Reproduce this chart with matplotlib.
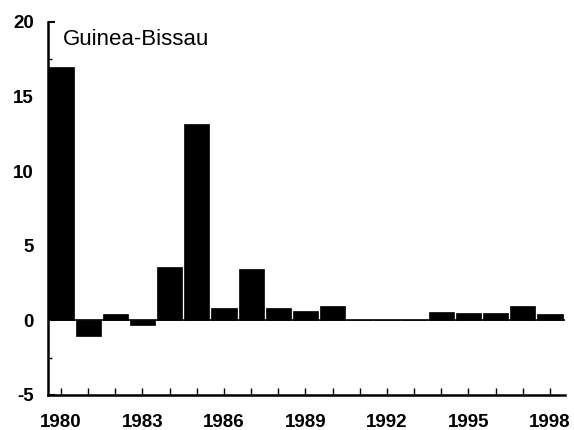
import matplotlib
matplotlib.use('Agg')
import matplotlib.pyplot as plt
import numpy as np

# Guinea-Bissau, annual values 1980-1998
YEARS = list(range(1980, 1999))
VALUES = [17.0, -1.05, 0.45, -0.3, 3.6, 13.15, 0.85, 3.45, 0.8, 0.6,
          0.95, 0.0, 0.0, 0.0, 0.55, 0.5, 0.5, 0.95, 0.4]
LABELED_YEARS = [1980, 1983, 1986, 1989, 1992, 1995, 1998]
Y_TICKS = [-5, 0, 5, 10, 15, 20]
TITLE = "Guinea-Bissau"

plt.rcParams['font.family'] = ['Liberation Sans', 'DejaVu Sans']
plt.rcParams['axes.unicode_minus'] = False

fig = plt.figure(figsize=(5.74, 4.30), dpi=100)
ax = fig.add_axes([0.0836, 0.0814, 0.9004, 0.8676])

ax.bar(YEARS, VALUES, width=0.93, color='black', edgecolor='black', linewidth=0.5)
ax.axhline(0, color='black', linewidth=1.2)

ax.set_xlim(1979.52, 1998.55)
ax.set_ylim(-5, 20)

ax.set_xticks(YEARS)
ax.set_xticklabels([str(y) if y in LABELED_YEARS else '' for y in YEARS],
                   fontweight='bold')
ax.set_yticks(Y_TICKS)
ax.set_yticklabels([str(v) for v in Y_TICKS], fontweight='bold')
ax.set_yticks(np.arange(-5, 20, 2.5), minor=True)

for s in ['top', 'right']:
    ax.spines[s].set_visible(False)
for s in ['left', 'bottom']:
    ax.spines[s].set_linewidth(1.8)

ax.tick_params(axis='x', direction='in', length=5, width=1, labelsize=13.5, pad=14)
ax.tick_params(axis='y', direction='in', length=5, width=1.5, labelsize=13.5, pad=10)
ax.tick_params(axis='y', which='minor', direction='in', length=3, width=1)

ax.text(0.029, 0.938, TITLE, transform=ax.transAxes, fontsize=16,
        ha='left', va='baseline')

fig.savefig('out.png', dpi=100)
